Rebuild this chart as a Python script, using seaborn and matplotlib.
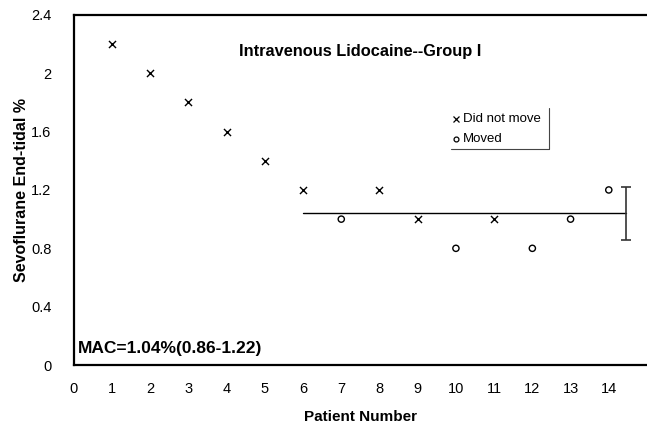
import matplotlib
matplotlib.use("Agg")
import matplotlib.pyplot as plt
import seaborn as sns
import pandas as pd

patients = [1, 2, 3, 4, 5, 6, 7, 8, 9, 10, 11, 12, 13, 14]
sevo = [2.2, 2.0, 1.8, 1.6, 1.4, 1.2, 1.0, 1.2, 1.0, 0.8, 1.0, 0.8, 1.0, 1.2]
response = ["Did not move", "Did not move", "Did not move", "Did not move", "Did not move",
            "Did not move", "Moved", "Did not move", "Did not move", "Moved",
            "Did not move", "Moved", "Moved", "Moved"]
mac = 1.04
mac_low = 0.86
mac_high = 1.22
line_x = [6, 14.45]
x_ticks = list(range(0, 15))
y_ticks = [0, 0.4, 0.8, 1.2, 1.6, 2.0, 2.4]
y_tick_labels = ["0", "0.4", "0.8", "1.2", "1.6", "2", "2.4"]

df = pd.DataFrame({"Patient": patients, "Sevo": sevo, "Response": response})

sns.set_style("white")
plt.rcParams["font.family"] = ["Liberation Sans", "DejaVu Sans"]
plt.rcParams["text.color"] = "black"
plt.rcParams["axes.labelcolor"] = "black"
plt.rcParams["xtick.labelcolor"] = "black"
plt.rcParams["ytick.labelcolor"] = "black"

fig = plt.figure(figsize=(6.47, 4.24), dpi=100)
ax = fig.add_axes([0.114, 0.139, 0.886, 0.826])

sns.scatterplot(data=df[df["Response"] == "Did not move"], x="Patient", y="Sevo",
                marker="x", color="black", s=26, linewidth=1.0, ax=ax, legend=False)
sns.scatterplot(data=df[df["Response"] == "Moved"], x="Patient", y="Sevo",
                marker="o", facecolor="none", edgecolor="black", s=20, linewidth=1.0,
                ax=ax, legend=False)

ax.plot(line_x, [mac, mac], color="black", lw=1.0)
ax.errorbar([line_x[1]], [mac], yerr=[[mac - mac_low], [mac_high - mac]],
            fmt="none", ecolor="#333333", elinewidth=1.2, capsize=3.5, capthick=1.2)

ax.set_xlim(0, 15)
ax.set_ylim(0, 2.4)
ax.set_xticks(x_ticks)
ax.set_yticks(y_ticks)
ax.set_yticklabels(y_tick_labels)
ax.tick_params(axis="both", labelsize=10.5, length=2, width=0.8, color="#555555",
               labelcolor="black", direction="out")
ax.tick_params(axis="x", pad=10)
ax.tick_params(axis="y", pad=14)
for s in ["left", "top", "bottom"]:
    ax.spines[s].set_linewidth(1.6)
    ax.spines[s].set_color("black")
ax.spines["right"].set_visible(False)

ax.set_xlabel("Patient Number", fontsize=11, fontweight="bold", labelpad=10, color="black")
ax.set_ylabel("Sevoflurane End-tidal %", fontsize=11.5, fontweight="bold", labelpad=1.5, color="black")

ax.text(0.50, 0.895, "Intravenous Lidocaine--Group I", transform=ax.transAxes,
        ha="center", va="center", fontsize=11.8, fontweight="bold", color="black")
ax.text(0.008, 0.047, "MAC=1.04%(0.86-1.22)", transform=ax.transAxes,
        ha="left", va="center", fontsize=12.5, fontweight="bold", color="black")

# legend
ax.plot([0.667], [0.703], marker="x", color="black", ms=4, mew=0.9, transform=ax.transAxes, clip_on=False)
ax.text(0.679, 0.703, "Did not move", transform=ax.transAxes, ha="left", va="center", fontsize=9.5, color="black")
ax.plot([0.667], [0.646], marker="o", mfc="none", color="black", ms=3.5, mew=0.9, transform=ax.transAxes, clip_on=False)
ax.text(0.679, 0.646, "Moved", transform=ax.transAxes, ha="left", va="center", fontsize=9.5, color="black")
ax.plot([0.829, 0.829], [0.617, 0.734], color="#444444", lw=0.8, transform=ax.transAxes)
ax.plot([0.658, 0.829], [0.617, 0.617], color="#444444", lw=0.8, transform=ax.transAxes)

fig.savefig("out.png", dpi=100)
